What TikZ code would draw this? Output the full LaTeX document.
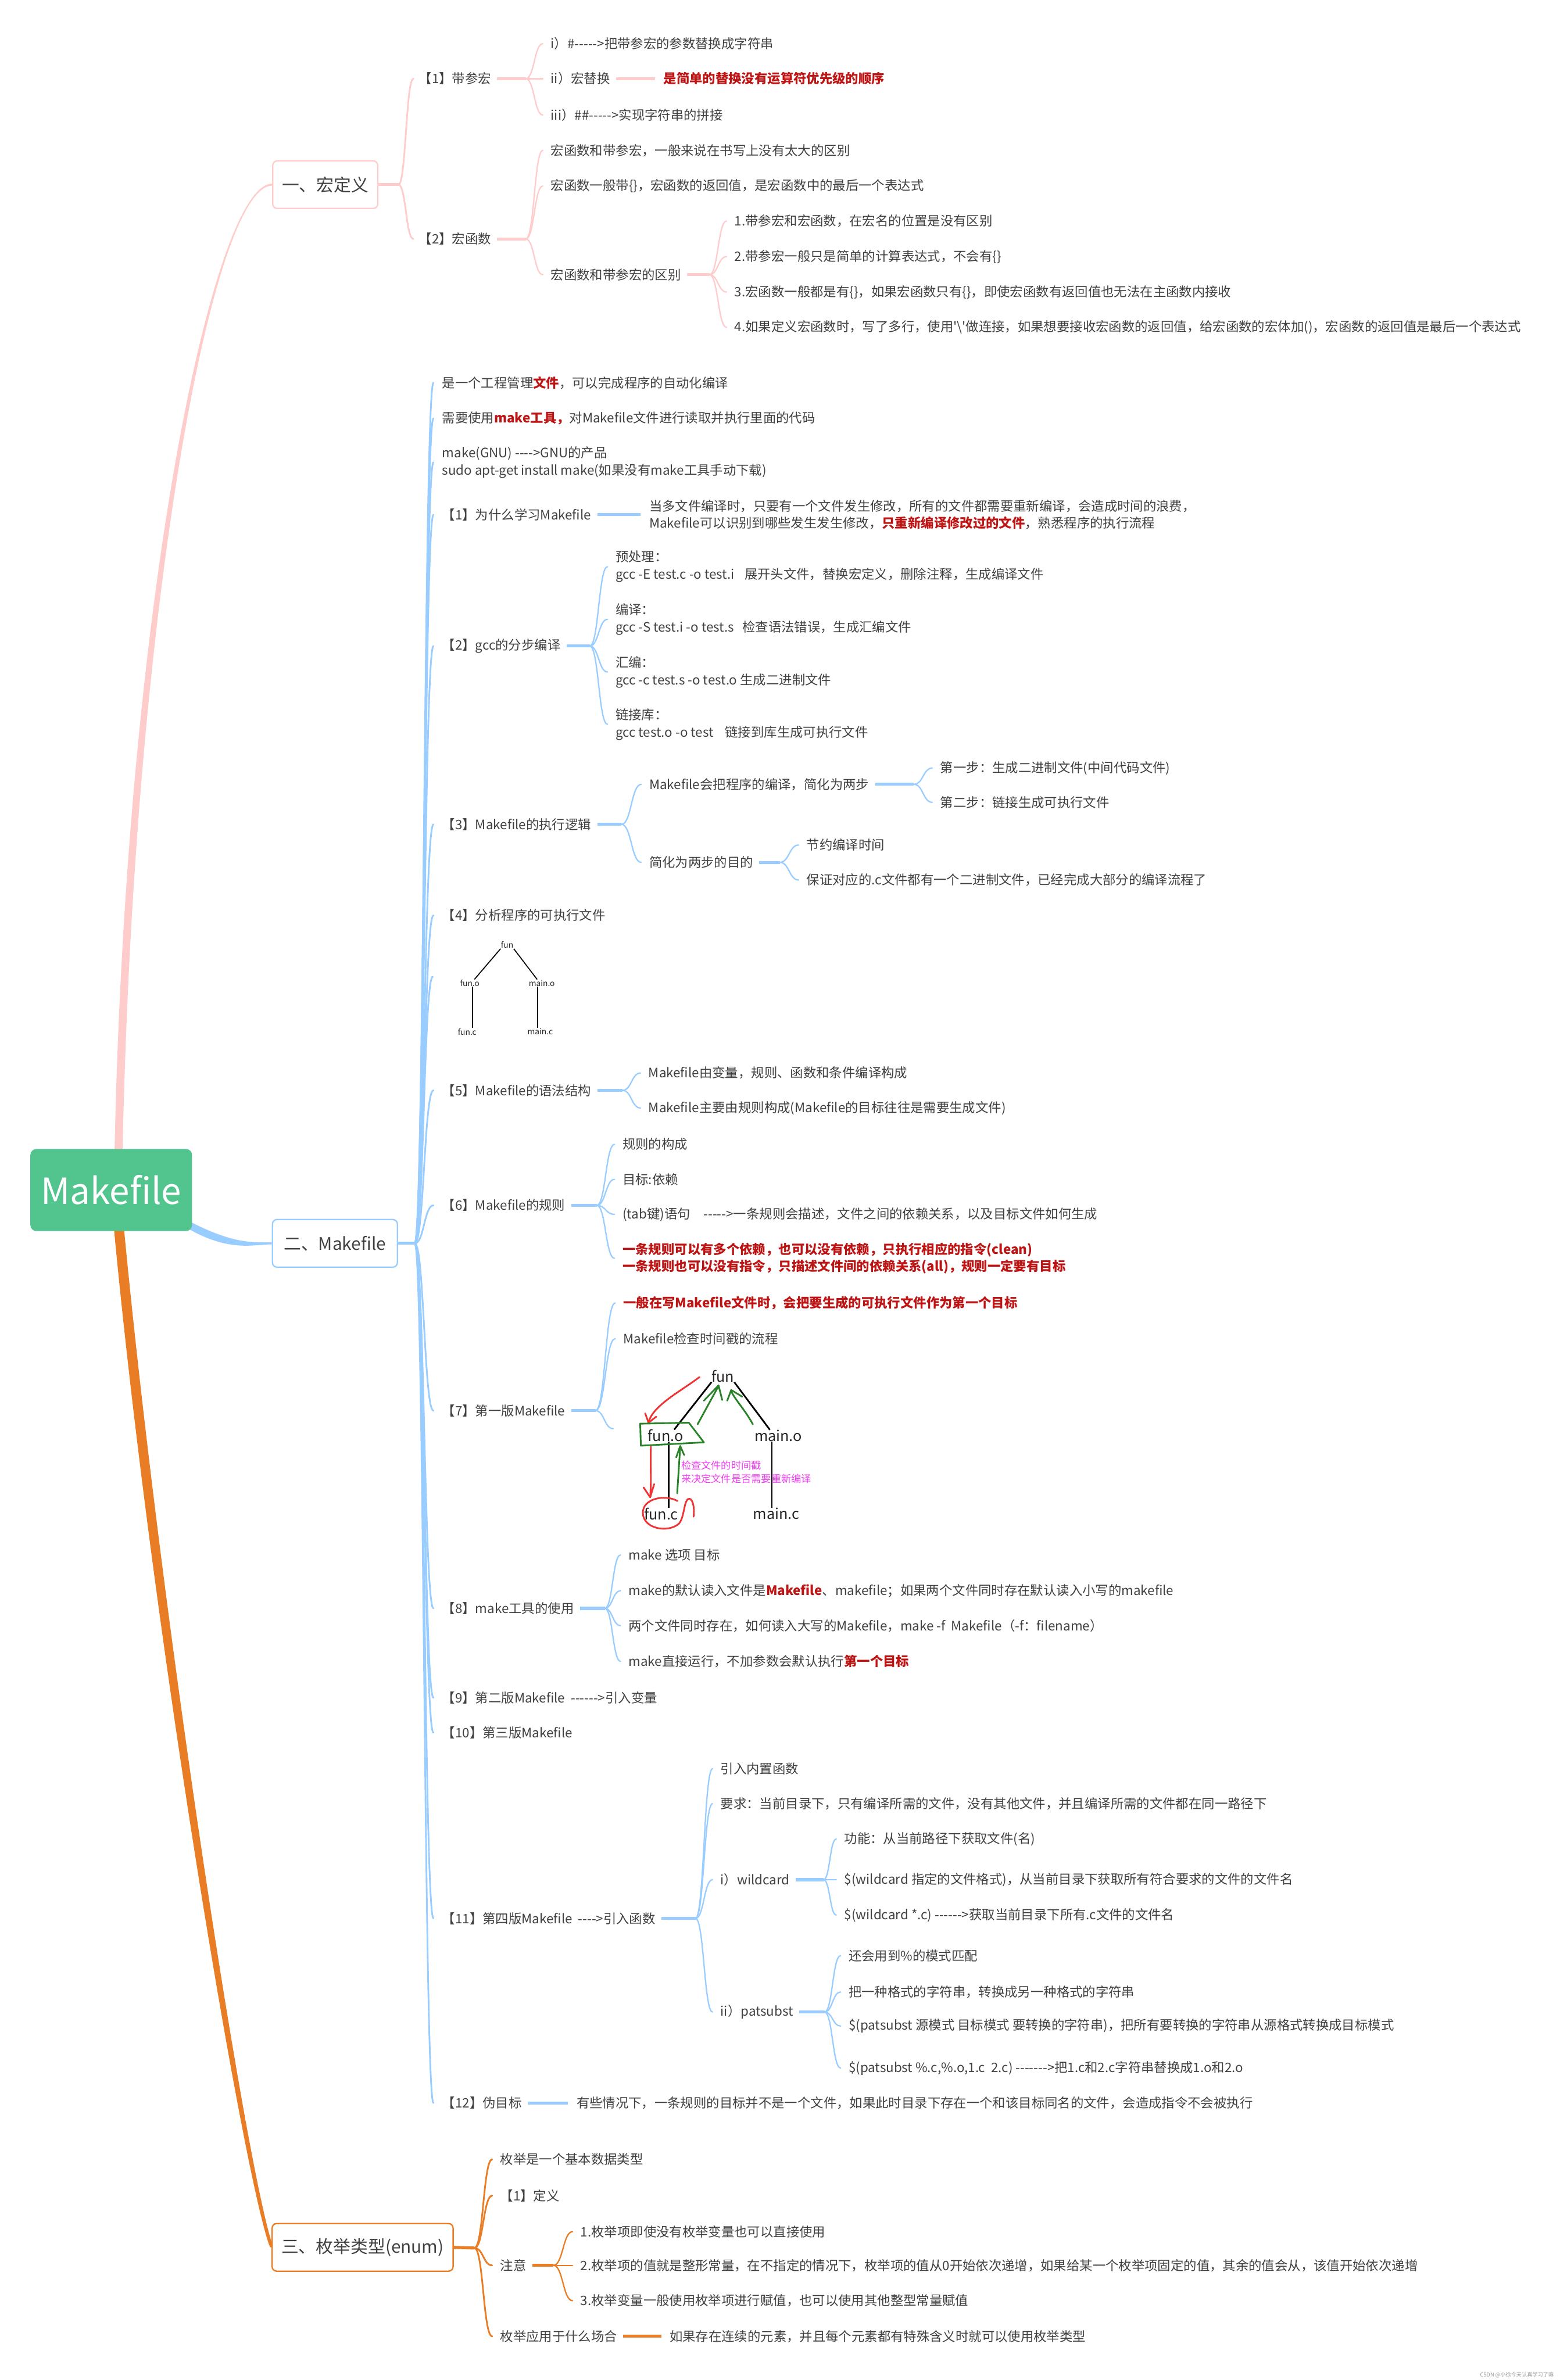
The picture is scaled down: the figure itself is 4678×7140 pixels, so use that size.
\documentclass[tikz,border=0pt]{standalone}
\usepackage{fontspec}
\newfontfamily\cjkf{Noto Sans CJK SC}
\usetikzlibrary{calc,backgrounds}
\definecolor{pinkc}{RGB}{255,204,204}
\definecolor{bluec}{RGB}{153,204,255}
\definecolor{orc}{RGB}{232,125,38}
\definecolor{rootc}{RGB}{82,196,142}
\definecolor{txtc}{RGB}{64,64,64}
\definecolor{redc}{RGB}{190,20,20}
\definecolor{magc}{RGB}{240,60,240}
\definecolor{hgreen}{RGB}{40,130,40}
\definecolor{hred}{RGB}{240,50,50}
\newcommand\fsn{\cjkf\fontsize{39}{52}\selectfont}
\newcommand\rb[1]{\textcolor{redc}{\bfseries #1}}
\newcommand\cnx[4]{\draw[draw=#1, line width=#2pt, line cap=round] let \p1=(#3), \p2=(#4) in (\p1) .. controls ({0.5*\x1+0.5*\x2},\y1) and ({0.5*\x1+0.5*\x2},\y2) .. (\p2);}
\begin{document}
\begin{tikzpicture}[x=1pt,y=-1pt,
  t/.style={font=\fsn, text=txtc, anchor=west, inner sep=0pt, align=left},
  sbox/.style={draw=#1, line width=4pt, rounded corners=14pt, fill=white, minimum height=143pt, font=\cjkf\fontsize{52}{60}\selectfont, text=txtc, inner sep=0pt},
  stub/.style={draw=#1, line width=9pt},
  tl/.style={font=\cjkf\fontsize{24}{28}\selectfont, text=black!85, inner sep=1pt},
  tl7/.style={font=\cjkf\fontsize{44}{50}\selectfont, text=black!85, inner sep=0pt},
  tr/.style={draw=black, line width=3pt},
  tr7/.style={draw=black, line width=5pt},
  hr/.style={draw=hred, line width=5pt, line cap=round, line join=round},
  hg/.style={draw=hgreen, line width=5pt, line cap=round, line join=round},
]
\useasboundingbox (0,0) rectangle (4678,7140);

% ---------- root and sections ----------
\node[fill=rootc, rounded corners=18pt, minimum width=485pt, minimum height=246pt, inner sep=0pt,
      text=white, font=\cjkf\fontsize{108}{112}\selectfont] (root) at (333.5,3570) {Makefile};
\node[sbox=pinkc, minimum width=315pt] (s1) at (975.5,554) {一、宏定义};
\node[sbox=bluec, minimum width=375pt] (s2) at (1004.5,3730) {二、Makefile};
\node[sbox=orc, minimum width=543pt] (s3) at (1087.5,6742) {三、枚举类型(enum)};

\begin{scope}[on background layer]
\fill[white] (0,0) rectangle (4678,7140);
\fill[pinkc] ([xshift=10,yshift=-10]root.north) .. controls (378,1800) and (640,551) .. ([yshift=3]s1.west)
  -- ([yshift=-3]s1.west) .. controls (640,557) and (402,1800) .. ([xshift=34,yshift=-10]root.north) -- cycle;
\fill[orc] ([xshift=8,yshift=10]root.south) .. controls (456,4900) and (734,6550) .. ([xshift=-4]s3.west)
  -- ([xshift=6]s3.west) .. controls (746,6550) and (488,4900) .. ([xshift=38,yshift=10]root.south) -- cycle;
\fill[bluec] ([xshift=-10,yshift=-93]root.east) .. controls (700,3733) and (760,3727) .. ([yshift=3]s2.west)
  -- ([yshift=-3]s2.west) .. controls (760,3733) and (690,3757) .. ([xshift=-10,yshift=-117]root.east) -- cycle;
\end{scope}

% ---------- section 1 ----------
\coordinate (j1) at (1195,554);
\coordinate (ja1) at (1577,236);
\coordinate (ja2) at (1577,717);
\coordinate (ja23) at (2128,824);
\node[t] (a1) at (1256,236) {【1】带参宏};
\node[t] (a2) at (1256,717) {【2】宏函数};
\node[t] (a11) at (1652,131) {i）\#----->把带参宏的参数替换成字符串};
\node[t] (a12) at (1652,236) {ii）宏替换};
\node[t] (a12r) at (1990,236) {\rb{是简单的替换没有运算符优先级的顺序}};
\node[t] (a13) at (1652,345) {iii）\#\#----->实现字符串的拼接};
\node[t] (a21) at (1652,451) {宏函数和带参宏，一般来说在书写上没有太大的区别};
\node[t] (a22) at (1652,558) {宏函数一般带\{\}，宏函数的返回值，是宏函数中的最后一个表达式};
\node[t] (a23) at (1652,824) {宏函数和带参宏的区别};
\node[t] (a231) at (2203,663) {1.带参宏和宏函数，在宏名的位置是没有区别};
\node[t] (a232) at (2203,770) {2.带参宏一般只是简单的计算表达式，不会有\{\}};
\node[t] (a233) at (2203,876) {3.宏函数一般都是有\{\}，如果宏函数只有\{\}，即使宏函数有返回值也无法在主函数内接收};
\node[t] (a234) at (2203,982) {4.如果定义宏函数时，写了多行，使用'\textbackslash'做连接，如果想要接收宏函数的返回值，给宏函数的宏体加()，宏函数的返回值是最后一个表达式};

\draw[stub=pinkc] (s1.east) -- (j1);
\draw[stub=pinkc] ([xshift=18]a1.east) -- (ja1);
\draw[stub=pinkc] ([xshift=18]a2.east) -- (ja2);
\draw[stub=pinkc] ([xshift=18]a23.east) -- (ja23);
\draw[stub=pinkc] ([xshift=18]a12.east) -- ([xshift=-26]a12r.west);
\cnx{pinkc}{5}{j1}{[xshift=-16]a1.west}
\cnx{pinkc}{5}{j1}{[xshift=-16]a2.west}
\foreach \q in {a11,a12,a13} {\cnx{pinkc}{4}{ja1}{[xshift=-24]\q.west}}
\foreach \q in {a21,a22,a23} {\cnx{pinkc}{4}{ja2}{[xshift=-24]\q.west}}
\foreach \q in {a231,a232,a233,a234} {\cnx{pinkc}{4}{ja23}{[xshift=-24]\q.west}}

% ---------- section 2 ----------
\coordinate (j2) at (1244,3730);
\node[t] (b1) at (1326,1148) {是一个工程管理\rb{文件}，可以完成程序的自动化编译};
\node[t] (b2) at (1326,1255) {需要使用\rb{make工具，}对Makefile文件进行读取并执行里面的代码};
\node[t] (b3) at (1326,1387) {make(GNU) ---->GNU的产品\\sudo apt-get install make(如果没有make工具手动下载)};
\node[t] (b4) at (1326,1544) {【1】为什么学习Makefile};
\node[t] (b4c) at (1947,1544) {当多文件编译时，只要有一个文件发生修改，所有的文件都需要重新编译，会造成时间的浪费，\\Makefile可以识别到哪些发生发生修改，\rb{只重新编译修改过的文件}，熟悉程序的执行流程};
\node[t] (b5) at (1326,1938) {【2】gcc的分步编译};
\coordinate (jb5) at (1769,1938);
\node[t] (b51) at (1846,1700) {预处理：\\gcc -E test.c -o test.i\hspace{30pt}展开头文件，替换宏定义，删除注释，生成编译文件};
\node[t] (b52) at (1846,1858) {编译：\\gcc -S test.i -o test.s\hspace{25pt}检查语法错误，生成汇编文件};
\node[t] (b53) at (1846,2016) {汇编：\\gcc -c test.s -o test.o 生成二进制文件};
\node[t] (b54) at (1846,2173) {链接库：\\gcc test.o -o test\hspace{35pt}链接到库生成可执行文件};
\node[t] (b6) at (1326,2473) {【3】Makefile的执行逻辑};
\coordinate (jb6) at (1864,2473);
\node[t] (b61) at (1947,2353) {Makefile会把程序的编译，简化为两步};
\coordinate (jb61) at (2741,2353);
\node[t] (b611) at (2820,2304) {第一步：生成二进制文件(中间代码文件)};
\node[t] (b612) at (2820,2407) {第二步：链接生成可执行文件};
\node[t] (b62) at (1947,2587) {简化为两步的目的};
\coordinate (jb62) at (2339,2587);
\node[t] (b621) at (2419,2535) {节约编译时间};
\node[t] (b622) at (2419,2640) {保证对应的.c文件都有一个二进制文件，已经完成大部分的编译流程了};
\node[t] (b7) at (1326,2746) {【4】分析程序的可执行文件};
\coordinate (img4) at (1298,2930);
\node[tl] (t4a) at (1521,2835) {fun};
\node[tl] (t4b) at (1409,2949) {fun.o};
\node[tl] (t4c) at (1625,2949) {main.o};
\node[tl] (t4d) at (1401,3095) {fun.c};
\node[tl] (t4e) at (1620,3095) {main.c};
\draw[tr] (t4a.south west) -- ([xshift=14]t4b.north);
\draw[tr] (t4a.south east) -- ([xshift=-14]t4c.north);
\draw[tr] ([xshift=8]t4b.south) -- ([xshift=16]t4d.north);
\draw[tr] ([xshift=-13]t4c.south) -- ([xshift=-8]t4e.north);
\node[t] (b8) at (1326,3271) {【5】Makefile的语法结构};
\coordinate (jb8) at (1867,3271);
\node[t] (b81) at (1945,3219) {Makefile由变量，规则、函数和条件编译构成};
\node[t] (b82) at (1945,3324) {Makefile主要由规则构成(Makefile的目标往往是需要生成文件)};
\node[t] (b9) at (1326,3616) {【6】Makefile的规则};
\coordinate (jb9) at (1790,3616);
\node[t] (b91) at (1867,3433) {规则的构成};
\node[t] (b92) at (1867,3538) {目标:依赖};
\node[t] (b93) at (1867,3643) {(tab键)语句\hspace{40pt}----->一条规则会描述，文件之间的依赖关系，以及目标文件如何生成};
\node[t] (b94) at (1867,3775) {\rb{一条规则可以有多个依赖，也可以没有依赖，只执行相应的指令(clean)}\\\rb{一条规则也可以没有指令，只描述文件间的依赖关系(all)，规则一定要有目标}};
\node[t] (b10) at (1326,4232) {【7】第一版Makefile};
\coordinate (jb10) at (1786,4232);
\node[t] (b101) at (1869,3909) {\rb{一般在写Makefile文件时，会把要生成的可执行文件作为第一个目标}};
\node[t] (b102) at (1869,4016) {Makefile检查时间戳的流程};
\coordinate (img7) at (1839,4286);
% first makefile figure
\node[tl7] (f7) at (2168,4128) {fun};
\node[tl7] (fo7) at (1996,4307) {fun.o};
\node[tl7] (mo7) at (2334,4307) {main.o};
\node[tl7] (fc7) at (1983,4541) {fun.c};
\node[tl7] (mc7) at (2328,4541) {main.c};
\draw[tr7] (f7.south west) -- ([xshift=26]fo7.north);
\draw[tr7] (f7.south east) -- ([xshift=-25]mo7.north);
\draw[tr7] ([xshift=9]fo7.south) -- ([xshift=22]fc7.north);
\draw[tr7] ([xshift=-19]mo7.south) -- ([xshift=-13]mc7.north);
\draw[hr] (2098,4131) .. controls (2040,4175) and (1960,4215) .. (1945,4266);
\draw[hr] (1935,4240) -- (1945,4268) -- (1968,4250);
\draw[hr] (1952,4338) .. controls (1950,4400) and (1954,4440) .. (1950,4490);
\draw[hr] (1930,4462) -- (1950,4492) -- (1962,4452);
\draw[hr] (2032,4503) .. controls (1995,4482) and (1926,4495) .. (1928,4540) .. controls (1930,4585) and (2000,4600) .. (2035,4572) .. controls (2052,4555) and (2050,4512) .. (2062,4498) .. controls (2076,4488) and (2084,4520) .. (2080,4550);
\draw[hg] (1920,4271) -- (2066,4268) -- (2111,4327) -- (1922,4337) -- cycle;
\draw[hg] (2031,4480) -- (2040,4340);
\draw[hg] (2028,4372) -- (2040,4338) -- (2052,4365);
\draw[hg] (2092,4273) -- (2155,4158);
\draw[hg] (2111,4202) -- (2155,4156) -- (2166,4200);
\draw[hg] (2258,4273) .. controls (2235,4230) and (2205,4200) .. (2192,4172);
\draw[hg] (2181,4202) -- (2193,4170) -- (2226,4190);
\node[anchor=west, inner sep=0pt, align=left, text=magc, font=\cjkf\fontsize{30}{41}\selectfont] (mag) at (2043,4416) {检查文件的时间戳\\来决定文件是否需要重新编译};
\node[t] (b11) at (1326,4825) {【8】make工具的使用};
\coordinate (jb11) at (1814,4825);
\node[t] (b111) at (1885,4665) {make 选项 目标};
\node[t] (b112) at (1885,4772) {make的默认读入文件是\rb{Makefile}、makefile；如果两个文件同时存在默认读入小写的makefile};
\node[t] (b113) at (1885,4877) {两个文件同时存在，如何读入大写的Makefile，make -f\ \ Makefile（-f：filename）};
\node[t] (b114) at (1885,4984) {make直接运行，不加参数会默认执行\rb{第一个目标}};
\node[t] (b12) at (1326,5093) {【9】第二版Makefile\ \ ------>引入变量};
\node[t] (b13) at (1326,5198) {【10】第三版Makefile};
\node[t] (b14) at (1326,5755) {【11】第四版Makefile\ \ ---->引入函数};
\coordinate (jb14) at (2086,5755);
\node[t] (b141) at (2161,5306) {引入内置函数};
\node[t] (b142) at (2161,5411) {要求：当前目录下，只有编译所需的文件，没有其他文件，并且编译所需的文件都在同一路径下};
\node[t] (b143) at (2161,5639) {i）wildcard};
\coordinate (jb143) at (2470,5639);
\node[t] (b1431) at (2532,5517) {功能：从当前路径下获取文件(名)};
\node[t] (b1432) at (2532,5639) {\$(wildcard 指定的文件格式)，从当前目录下获取所有符合要求的文件的文件名};
\node[t] (b1433) at (2532,5745) {\$(wildcard *.c) ------>获取当前目录下所有.c文件的文件名};
\node[t] (b144) at (2161,6036) {ii）patsubst};
\coordinate (jb144) at (2473,6036);
\node[t] (b1441) at (2545,5867) {还会用到\%的模式匹配};
\node[t] (b1442) at (2545,5976) {把一种格式的字符串，转换成另一种格式的字符串};
\node[t] (b1443) at (2545,6078) {\$(patsubst 源模式 目标模式 要转换的字符串)，把所有要转换的字符串从源格式转换成目标模式};
\node[t] (b1444) at (2545,6204) {\$(patsubst \%.c,\%.o,1.c\ \ 2.c) ------->把1.c和2.c字符串替换成1.o和2.o};
\node[t] (b15) at (1326,6309) {【12】伪目标};
\node[t] (b15c) at (1729,6309) {有些情况下，一条规则的目标并不是一个文件，如果此时目录下存在一个和该目标同名的文件，会造成指令不会被执行};

\draw[stub=bluec] (s2.east) -- (j2);
\foreach \q in {b1,b2,b3,b4,b5,b6,b7,b8,b9,b10,b11,b12,b13,b14,b15} {\cnx{bluec}{5}{j2}{[xshift=-26]\q.west}}
\cnx{bluec}{5}{j2}{img4}
\draw[stub=bluec] ([xshift=18]b4.east) -- ([xshift=-26]b4c.west);
\draw[stub=bluec] ([xshift=18]b15.east) -- ([xshift=-26]b15c.west);
\draw[stub=bluec] ([xshift=18]b5.east) -- (jb5);
\foreach \q in {b51,b52,b53,b54} {\cnx{bluec}{4}{jb5}{[xshift=-24]\q.west}}
\draw[stub=bluec] ([xshift=18]b6.east) -- (jb6);
\foreach \q in {b61,b62} {\cnx{bluec}{4}{jb6}{[xshift=-24]\q.west}}
\draw[stub=bluec] ([xshift=18]b61.east) -- (jb61);
\foreach \q in {b611,b612} {\cnx{bluec}{4}{jb61}{[xshift=-24]\q.west}}
\draw[stub=bluec] ([xshift=18]b62.east) -- (jb62);
\foreach \q in {b621,b622} {\cnx{bluec}{4}{jb62}{[xshift=-24]\q.west}}
\draw[stub=bluec] ([xshift=18]b8.east) -- (jb8);
\foreach \q in {b81,b82} {\cnx{bluec}{4}{jb8}{[xshift=-24]\q.west}}
\draw[stub=bluec] ([xshift=18]b9.east) -- (jb9);
\foreach \q in {b91,b92,b93,b94} {\cnx{bluec}{4}{jb9}{[xshift=-24]\q.west}}
\draw[stub=bluec] ([xshift=18]b10.east) -- (jb10);
\foreach \q in {b101,b102} {\cnx{bluec}{4}{jb10}{[xshift=-24]\q.west}}
\cnx{bluec}{4}{jb10}{img7}
\draw[stub=bluec] ([xshift=18]b11.east) -- (jb11);
\foreach \q in {b111,b112,b113,b114} {\cnx{bluec}{4}{jb11}{[xshift=-24]\q.west}}
\draw[stub=bluec] ([xshift=18]b14.east) -- (jb14);
\foreach \q in {b141,b142,b143,b144} {\cnx{bluec}{4}{jb14}{[xshift=-24]\q.west}}
\draw[stub=bluec] ([xshift=18]b143.east) -- (jb143);
\foreach \q in {b1431,b1432,b1433} {\cnx{bluec}{4}{jb143}{[xshift=-24]\q.west}}
\draw[stub=bluec] ([xshift=18]b144.east) -- (jb144);
\foreach \q in {b1441,b1442,b1443,b1444} {\cnx{bluec}{4}{jb144}{[xshift=-24]\q.west}}

% ---------- section 3 ----------
\coordinate (j3) at (1423,6744);
\node[t] (e1) at (1500,6478) {枚举是一个基本数据类型};
\node[t] (e2) at (1500,6587) {【1】定义};
\node[t] (e3) at (1500,6796) {注意};
\coordinate (je3) at (1660,6796);
\node[t] (e31) at (1741,6695) {1.枚举项即使没有枚举变量也可以直接使用};
\node[t] (e32) at (1741,6796) {2.枚举项的值就是整形常量，在不指定的情况下，枚举项的值从0开始依次递增，如果给某一个枚举项固定的值，其余的值会从，该值开始依次递增};
\node[t] (e33) at (1741,6902) {3.枚举变量一般使用枚举项进行赋值，也可以使用其他整型常量赋值};
\node[t] (e4) at (1500,7009) {枚举应用于什么场合};
\node[t] (e4c) at (2008,7009) {如果存在连续的元素，并且每个元素都有特殊含义时就可以使用枚举类型};
\draw[stub=orc] (s3.east) -- (j3);
\foreach \q in {e1,e2,e3,e4} {\cnx{orc}{5}{j3}{[xshift=-24]\q.west}}
\draw[stub=orc] ([xshift=18]e3.east) -- (je3);
\foreach \q in {e31,e32,e33} {\cnx{orc}{4}{je3}{[xshift=-24]\q.west}}
\draw[stub=orc] ([xshift=18]e4.east) -- ([xshift=-24]e4c.west);

\node[anchor=east, inner sep=0pt, text=black!40, font=\cjkf\fontsize{16}{18}\selectfont] (wm) at (4660,7125) {CSDN @小徐今天认真学习了嘛};
\end{tikzpicture}
\end{document}
